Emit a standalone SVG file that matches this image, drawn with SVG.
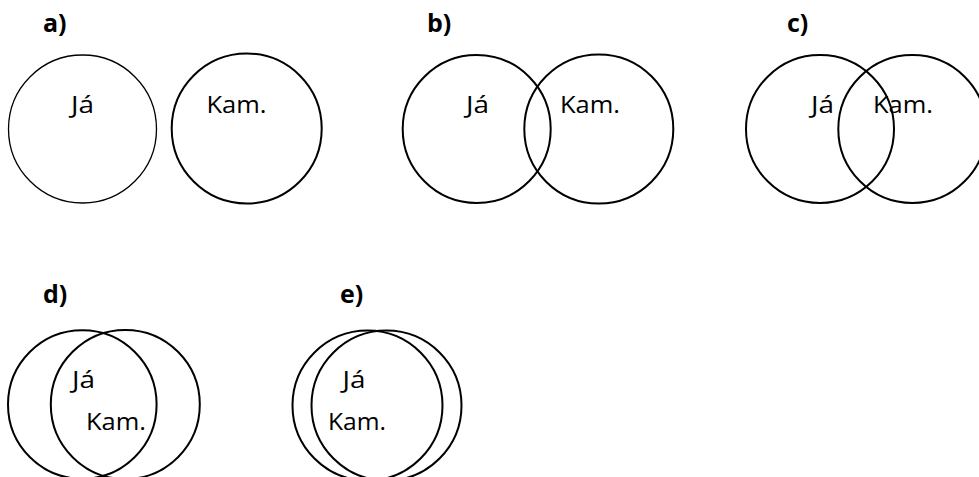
<svg xmlns="http://www.w3.org/2000/svg" width="979" height="477" viewBox="0 0 979 477">
<style>
.c{fill:none;stroke:#000;stroke-width:2}
.thin{stroke-width:1.3}
.t{font-family:"Open Sans","Liberation Sans",sans-serif;font-size:24px;fill:#000}
.l{font-family:"Open Sans","Liberation Sans",sans-serif;font-size:25px;font-weight:bold;fill:#000}
</style>
<rect width="979" height="477" fill="#fff"/>
<g id="panel-a">
<text class="l" x="43" y="32">a)</text>
<circle class="c thin" cx="82.5" cy="129" r="74"/>
<circle class="c" cx="246.7" cy="128.5" r="75"/>
<text class="t" x="71" y="113" textLength="23" lengthAdjust="spacingAndGlyphs">Já</text>
<text class="t" x="206.5" y="113" textLength="60" lengthAdjust="spacingAndGlyphs">Kam.</text>
</g>
<g id="panel-b">
<text class="l" x="427" y="32">b)</text>
<circle class="c" cx="476.7" cy="129" r="74"/>
<circle class="c" cx="598.8" cy="129" r="74.5"/>
<text class="t" x="466" y="113" textLength="23" lengthAdjust="spacingAndGlyphs">Já</text>
<text class="t" x="560" y="113" textLength="60" lengthAdjust="spacingAndGlyphs">Kam.</text>
</g>
<g id="panel-c">
<text class="l" x="787" y="32">c)</text>
<circle class="c" cx="820" cy="129" r="74"/>
<circle class="c" cx="912.3" cy="129" r="74"/>
<text class="t" x="811" y="113" textLength="23" lengthAdjust="spacingAndGlyphs">Já</text>
<text class="t" x="873" y="113" textLength="60" lengthAdjust="spacingAndGlyphs">Kam.</text>
</g>
<g id="panel-d">
<text class="l" x="43" y="303">d)</text>
<circle class="c" cx="82.3" cy="404.5" r="74.3"/>
<circle class="c" cx="125.3" cy="404.5" r="74.5"/>
<text class="t" x="72" y="388" textLength="23" lengthAdjust="spacingAndGlyphs">Já</text>
<text class="t" x="86" y="430" textLength="60" lengthAdjust="spacingAndGlyphs">Kam.</text>
</g>
<g id="panel-e">
<text class="l" x="340" y="303">e)</text>
<circle class="c" cx="367.5" cy="405.5" r="75"/>
<circle class="c" cx="386.5" cy="405.5" r="75"/>
<text class="t" x="342.5" y="388" textLength="23" lengthAdjust="spacingAndGlyphs">Já</text>
<text class="t" x="328" y="430" textLength="58" lengthAdjust="spacingAndGlyphs">Kam.</text>
</g>
<g id="connectors"/>
</svg>
